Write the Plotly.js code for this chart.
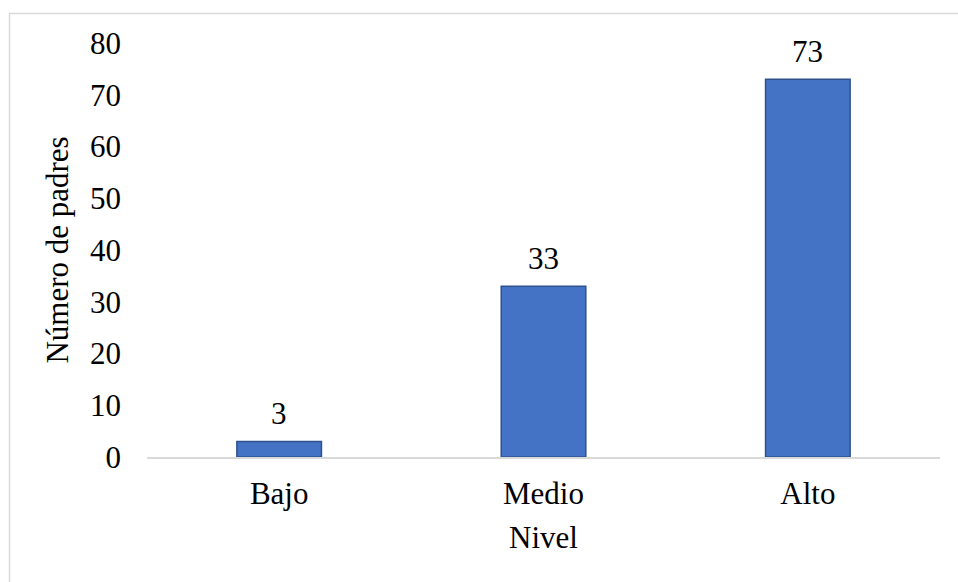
<!DOCTYPE html>
<html>
<head>
<meta charset="utf-8">
<script src="https://cdn.plot.ly/plotly-3.0.1.min.js"></script>
<style>html,body{margin:0;padding:0;background:#fff;}#chart{width:958px;height:582px;}</style>
</head>
<body>
<div id="chart"></div>
<script>
const categories = ["Bajo", "Medio", "Alto"];
const values = [3, 33, 73];
const yTicks = [0, 10, 20, 30, 40, 50, 60, 70, 80];

const font = {family: "Liberation Serif, Times New Roman, Tinos, DejaVu Serif, serif", color: "#000000", size: 31};

const trace = {
  type: "bar",
  x: categories,
  y: values,
  width: 0.32,
  marker: {color: "#4472C4", line: {color: "#2F528F", width: 1.5}},
  hoverinfo: "none"
};

const annotations = categories.map((c, i) => ({
  x: c, y: values[i], xref: "x", yref: "y",
  text: String(values[i]), showarrow: false,
  yanchor: "bottom", yshift: 8, font: font
}));

const layout = {
  width: 958, height: 582,
  margin: {l: 147, r: 18, t: 43, b: 125},
  paper_bgcolor: "#ffffff", plot_bgcolor: "#ffffff",
  font: font,
  showlegend: false,
  xaxis: {
    showline: true, linecolor: "#d9d9d9", linewidth: 1.5,
    showgrid: false, zeroline: false, ticks: "",
    ticklabelstandoff: 8,
    tickfont: font,
    title: {text: "Nivel", font: font, standoff: 16}
  },
  yaxis: {
    range: [0, 80], tickvals: yTicks, ticktext: yTicks.map(String),
    showgrid: false, zeroline: false, showline: false, ticks: "",
    ticklabelstandoff: 25,
    tickfont: font,
    title: {text: "Número de padres", font: font, standoff: 12}
  },
  annotations: annotations,
  shapes: [{
    type: "rect", xref: "paper", yref: "paper",
    x0: (9.5 - 147) / 793, x1: (975 - 147) / 793,
    y0: (457 - 600) / 414, y1: (457 - 13.5) / 414,
    line: {color: "#d9d9d9", width: 1.5}, fillcolor: "rgba(0,0,0,0)", layer: "below"
  }]
};

Plotly.newPlot("chart", [trace], layout, {displayModeBar: false, staticPlot: true});
</script>
</body>
</html>
